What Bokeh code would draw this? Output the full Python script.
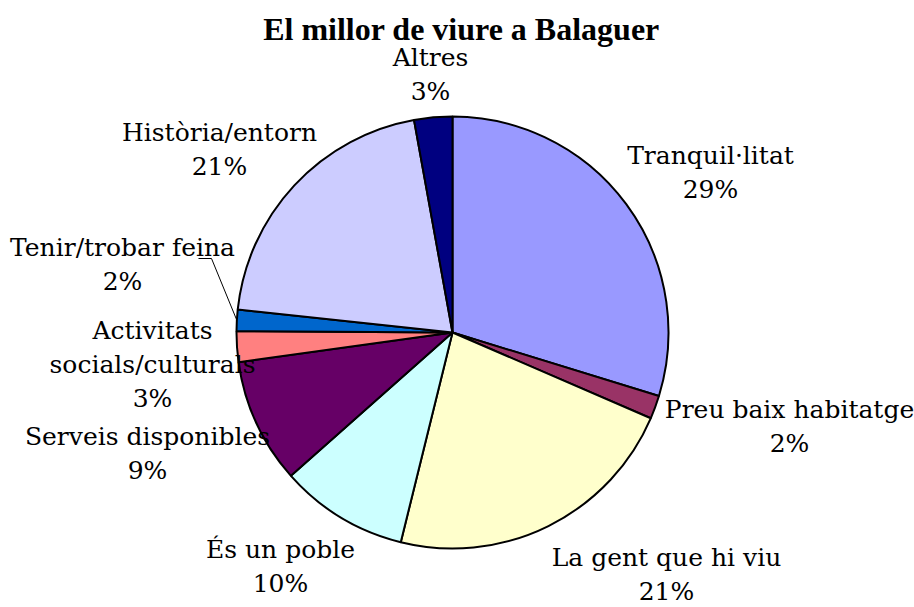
import math
from bokeh.plotting import figure
from bokeh.models import Range1d, ColumnDataSource
from bokeh.core.properties import value
from bokeh.embed import file_html
from bokeh.resources import INLINE

# ---- data ----
categories = [["Tranquil·litat"], ["Preu baix habitatge"], ["La gent que hi viu"],
              ["És un poble"], ["Serveis disponibles"], ["Activitats", "socials/culturals"],
              ["Tenir/trobar feina"], ["Història/entorn"], ["Altres"]]
shares = [29.75, 1.75, 22.35, 9.6, 9.35, 2.3, 1.6, 20.45, 2.85]
pct_labels = ["29%", "2%", "21%", "10%", "9%", "3%", "2%", "21%", "3%"]
colors = ["#9999FF", "#993366", "#FFFFCC", "#CCFFFF", "#660066",
          "#FF8080", "#0066CC", "#CCCCFF", "#000080"]
title_text = "El millor de viure a Balaguer"

# ---- layout (pixels, picture coordinates) ----
W, H = 914, 607
CX, CY_PIX, R = 452, 332, 216
CY = H - CY_PIX
LINE = 34
# label block centre offsets from the pie centre (dx right, dy down)
label_offsets = [(258, -160), (337, 94), (214, 242), (-172, 234), (-305, 121),
                 (-300, 32), (-330, -68), (-233, -183), (-22, -258)]
LABEL_FONT = "DejaVu Serif"
TITLE_FONT = "Liberation Serif"

p = figure(width=W, height=H, output_backend="svg", toolbar_location=None,
           x_range=Range1d(0, W), y_range=Range1d(0, H), min_border=0,
           outline_line_color=None, background_fill_color="white")
p.axis.visible = False
p.grid.visible = False

total = sum(shares)
starts, ends = [], []
acc = 0.0
for s in shares:
    starts.append(math.radians(90 - 360 * acc / total))
    acc += s
    ends.append(math.radians(90 - 360 * acc / total))

src = ColumnDataSource(dict(x=[CX] * len(shares), y=[CY] * len(shares),
                            start=starts, end=ends, color=colors))
p.wedge(x="x", y="y", radius=R, start_angle="start", end_angle="end",
        direction="clock", fill_color="color", line_color="black",
        line_width=2, source=src)

tx_, ty_, tt_ = [], [], []
for (dx, dy), cat, pc in zip(label_offsets, categories, pct_labels):
    lines = cat + [pc]
    n = len(lines)
    for k, ln in enumerate(lines):
        tx_.append(CX + dx)
        ty_.append(CY - dy - (k - (n - 1) / 2) * LINE)
        tt_.append(ln)
p.text(x=tx_, y=ty_, text=tt_, text_align="center", text_baseline="middle",
       text_font=value(LABEL_FONT), text_font_size="25px",
       text_color="black")

# leader line for the small "Tenir/trobar feina" slice
i = 6
acc_before = sum(shares[:i])
mid = 360 * (acc_before + shares[i] / 2) / total
ex = CX + R * math.sin(math.radians(mid))
ey = CY + R * math.cos(math.radians(mid))
lx = CX + label_offsets[i][0] + 76
ly = CY - label_offsets[i][1] + LINE / 2 - 11
p.line(x=[lx, lx + 13, ex], y=[ly, ly, ey], line_color="black", line_width=1)

p.text(x=[CX + 9], y=[H - 28], text=[title_text], text_align="center",
       text_baseline="middle", text_font=value(TITLE_FONT), text_font_size="32px",
       text_font_style="bold", text_color="black")

open("out.html", "w").write(file_html(p, INLINE))
